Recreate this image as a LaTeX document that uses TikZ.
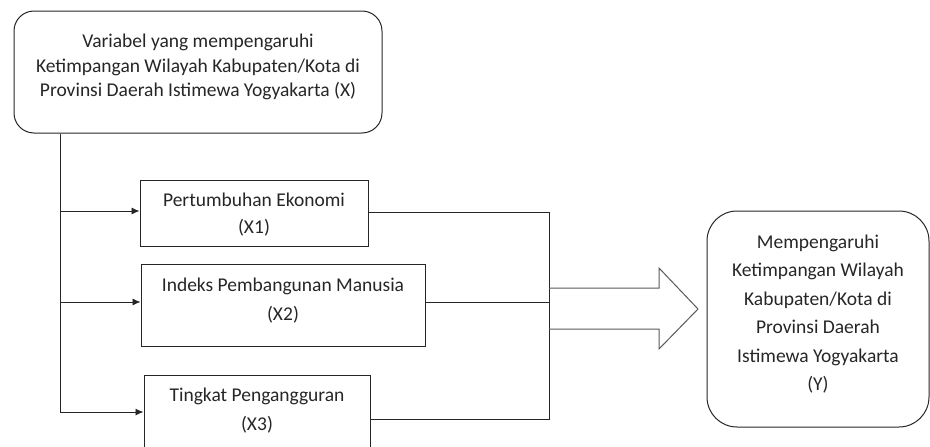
\documentclass[tikz,border=0pt]{standalone}
\usepackage{fontspec}
\setmainfont{Carlito}
\usetikzlibrary{arrows.meta}
\begin{document}
\begin{tikzpicture}[x=1pt,y=-1pt,
  txt/.style={align=center, text=black!85, inner sep=0pt},
  rbox/.style={draw=black!85, line width=1pt, inner sep=0pt},
  vbox/.style={draw=black!85, line width=1pt, inner sep=0pt},
  conn/.style={draw=black!85, line width=0.9pt},
  arr/.style={conn, -{Latex[length=8pt,width=7pt]}},
  bigarrow/.style={draw=black!65, line width=1pt, line join=miter}]
\useasboundingbox (0,0) rectangle (930,447);
% boxes
\node[rbox, rounded corners=20pt, minimum width=368, minimum height=122] (X) at (198,72) {};
\node[txt, font=\fontsize{19.5}{24.4}\selectfont] (Xt) at (198,67)
  {Variabel yang mempengaruhi\\Ketimpangan Wilayah Kabupaten/Kota di\\Provinsi Daerah Istimewa Yogyakarta (X)};
\node[vbox, minimum width=228, minimum height=66] (x1) at (254,213) {};
\node[txt, font=\fontsize{19.5}{27}\selectfont] (x1t) at (254,214.5) {Pertumbuhan Ekonomi\\(X1)};
\node[vbox, minimum width=284, minimum height=82] (x2) at (283,305) {};
\node[txt, font=\fontsize{19.5}{29}\selectfont] (x2t) at (283,300.5) {Indeks Pembangunan Manusia\\(X2)};
\node[vbox, minimum width=226, minimum height=82] (x3) at (257,416) {};
\node[txt, font=\fontsize{19.5}{29}\selectfont] (x3t) at (257,410.5) {Tingkat Pengangguran\\(X3)};
\node[rbox, rounded corners=30pt, minimum width=222, minimum height=216] (Y) at (818,319) {};
\node[txt, font=\fontsize{19.5}{28.5}\selectfont] (Yt) at (818,314)
  {Mempengaruhi\\Ketimpangan Wilayah\\Kabupaten/Kota di\\Provinsi Daerah\\Istimewa Yogyakarta\\(Y)};
% left trunk
\coordinate (b1) at (60,211);
\coordinate (b2) at (60,302);
\coordinate (b3) at (60,412);
\draw[conn] (X.south -| b3) -- (b3);
\draw[arr] (b1) -- (b1 -| x1.west);
\draw[arr] (b2) -- (b2 -| x2.west);
\draw[arr] (b3) -- (b3 -| x3.west);
% right collector
\coordinate (j1) at (549,212);
\coordinate (j2) at (549,302);
\coordinate (j3) at (549,419);
\draw[conn] (j1 -| x1.east) -- (j1) -- (j3) -- (j3 -| x3.east);
\draw[conn] (j2 -| x2.east) -- (j2);
% block arrow
\coordinate (a0) at (549,288);
\coordinate (a1) at (549,329);
\draw[bigarrow] (a0) -- (659,288) -- (659,268) -- (698,309) -- (659,349) -- (659,329) -- (a1);
\end{tikzpicture}
\end{document}
